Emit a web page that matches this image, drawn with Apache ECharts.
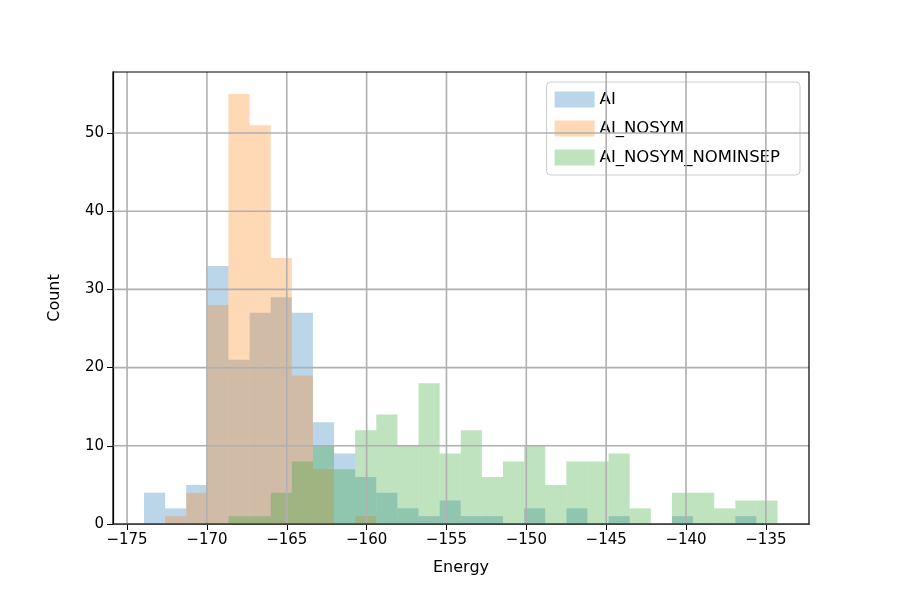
<!DOCTYPE html>
<html><head><meta charset="utf-8">
<script src="https://cdn.jsdelivr.net/npm/echarts@6/dist/echarts.min.js"></script>
<style>html,body{margin:0;padding:0;background:#fff}#c{width:900px;height:600px}</style>
</head><body><div id="c"></div>
<script>
const binStart = -173.94, binEnd = -134.27, binCount = 30;
const seriesNames = ['AI', 'AI_NOSYM', 'AI_NOSYM_NOMINSEP'];
const countsAI = [4,2,5,33,21,27,29,27,13,9,6,4,2,1,3,1,1,0,2,0,2,0,1,0,0,1,0,0,1,0];
const countsNOSYM = [0,1,4,28,55,51,34,19,7,0,1,0,0,0,0,0,0,0,0,0,0,0,0,0,0,0,0,0,0,0];
const countsNOMINSEP = [0,0,0,0,1,1,4,8,10,7,12,14,10,18,9,12,6,8,10,5,8,8,9,2,0,4,4,2,3,3];
const xTicks = [-175,-170,-165,-160,-155,-150,-145,-140,-135];
const yTicks = [0,10,20,30,40,50];
const colors = ['rgba(31,119,180,0.3)','rgba(255,127,14,0.3)','rgba(44,160,44,0.3)'];

const w = (binEnd - binStart) / binCount;
function histData(counts){ return counts.map((c,i)=>[binStart+i*w, binStart+(i+1)*w, c]); }
function barItem(params, api){
  const p0 = api.coord([api.value(0), api.value(2)]);
  const p1 = api.coord([api.value(1), 0]);
  return {type:'rect', shape:{x:p0[0], y:p0[1], width:p1[0]-p0[0], height:p1[1]-p0[1]}, style:{fill:api.visual('color')}};
}
const fmt = v => (v<0?'\u2212':'') + Math.abs(v);
const xMin=-175.88, xMax=-132.3, yMax=57.8;
const chart = echarts.init(document.getElementById('c'));
const all=[countsAI,countsNOSYM,countsNOMINSEP];
const series = all.map((c,i)=>({name:seriesNames[i], type:'custom', renderItem:barItem, data:histData(c), itemStyle:{color:colors[i]}, z:2, silent:true, animation:false}));
series.push({type:'custom', z:5, silent:true, animation:false, data:xTicks.map(t=>[t]),
  renderItem:(p,api)=>{const a=api.coord([api.value(0),0]),b=api.coord([api.value(0),yMax]);return{type:'line',shape:{x1:a[0],y1:a[1],x2:b[0],y2:b[1]},style:{stroke:'#b0b0b0',lineWidth:1.6}};}});
series.push({type:'custom', z:5, silent:true, animation:false, data:yTicks.map(t=>[t]),
  renderItem:(p,api)=>{const a=api.coord([xMin,api.value(0)]),b=api.coord([xMax,api.value(0)]);return{type:'line',shape:{x1:a[0],y1:a[1],x2:b[0],y2:b[1]},style:{stroke:'#b0b0b0',lineWidth:1.6}};}, encode:{x:[],y:0}});
chart.setOption({
  animation:false,
  textStyle:{fontFamily:'DejaVu Sans'},
  grid:{left:113,right:91,top:72,bottom:76},
  legend:{data:seriesNames.map((n,i)=>({name:n,icon:'rect',itemStyle:{color:colors[i]}})), orient:'vertical', right:100, top:82,
    itemWidth:40, itemHeight:16, itemGap:12, padding:[9,20,9,8], borderColor:'#cccccc', borderWidth:1, borderRadius:4,
    backgroundColor:'rgba(255,255,255,0.8)', textStyle:{fontSize:16.5,color:'#000',fontFamily:'DejaVu Sans'}},
  xAxis:{type:'value', min:xMin, max:xMax, name:'Energy', nameLocation:'middle', nameGap:36, nameTextStyle:{fontSize:16,color:'#000'},
    axisLine:{show:true,onZero:false,lineStyle:{color:'#000',width:1.2}}, splitLine:{show:false},
    axisTick:{show:true,customValues:xTicks,length:6,lineStyle:{color:'#000'}},
    axisLabel:{customValues:xTicks,formatter:fmt,fontSize:15,color:'#000',margin:9}},
  yAxis:{type:'value', min:0, max:yMax, name:'Count', nameLocation:'middle', nameGap:50, nameTextStyle:{fontSize:16,color:'#000'},
    axisLine:{show:true,lineStyle:{color:'#000',width:1.2}}, splitLine:{show:false},
    axisTick:{show:true,customValues:yTicks,length:6,lineStyle:{color:'#000'}},
    axisLabel:{customValues:yTicks,formatter:fmt,fontSize:15,color:'#000',margin:9}},
  series:series
});
chart.setOption({graphic:[{type:'rect',shape:{x:113,y:72,width:696,height:452},style:{fill:'none',stroke:'#000',lineWidth:1.2},z:10,silent:true}]});
</script></body></html>
